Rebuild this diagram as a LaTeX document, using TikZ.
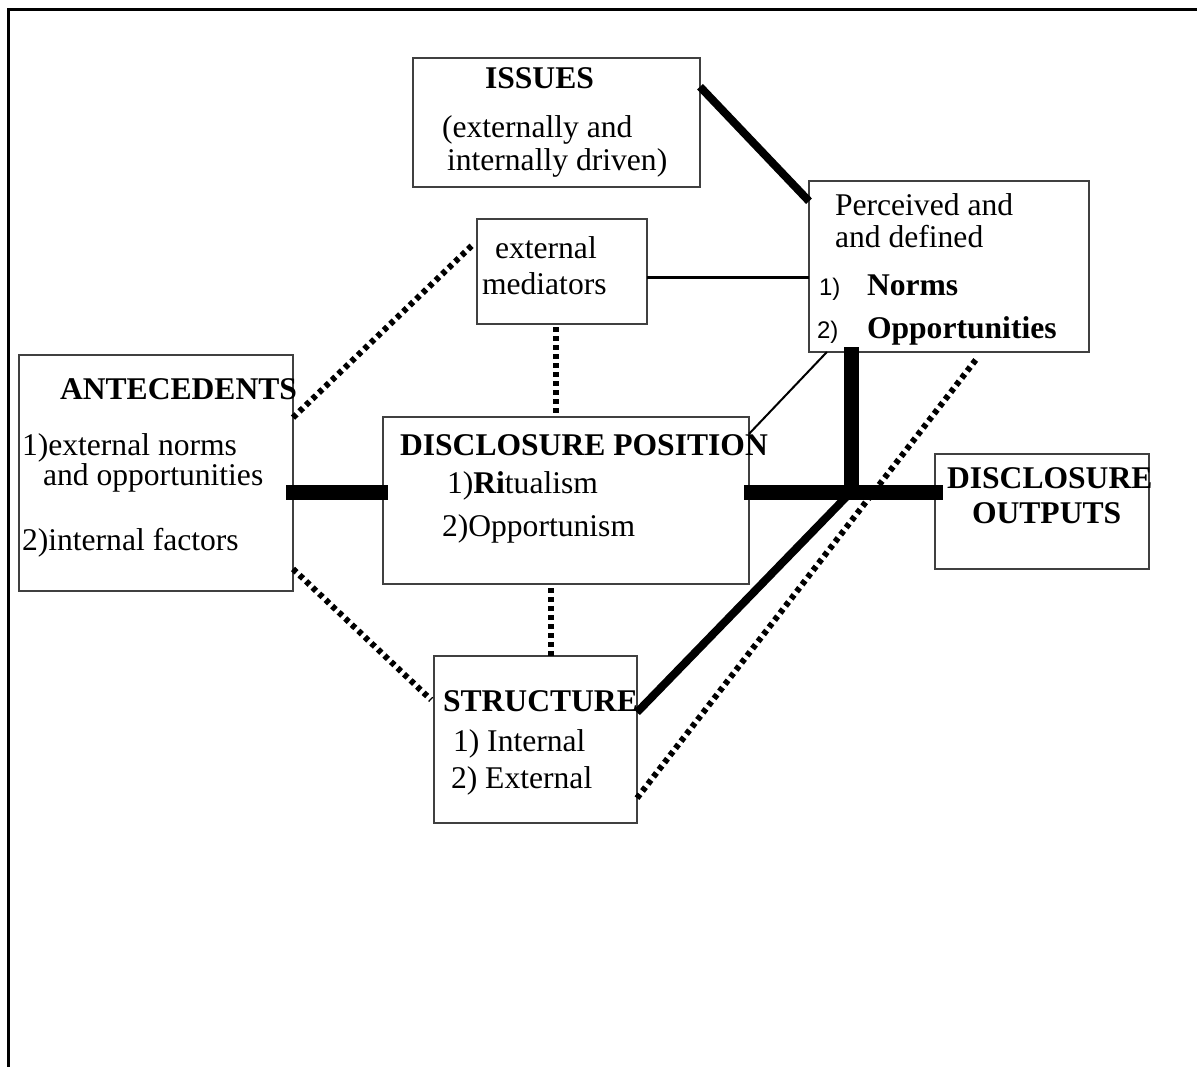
\documentclass[tikz,border=0pt]{standalone}
\usepackage{fontspec}
\setmainfont{Liberation Serif}
\newfontfamily\arialfont{Liberation Sans}

\begin{document}
\begin{tikzpicture}[x=0.5pt,y=-0.5pt,
  every node/.style={inner sep=0pt,outer sep=0pt},
  box/.style={draw=black!75,line width=0.75pt},
  txt/.style={anchor=base west,font=\fontsize{15.8pt}{18pt}\selectfont},
  num/.style={anchor=base west,font=\arialfont\fontsize{12pt}{14pt}\selectfont},
  bar/.style={line width=7.5pt},
  link/.style={line width=4pt},
  fine/.style={line width=1pt},
  dots/.style={line width=3pt,dash pattern=on 2.4pt off 2.1pt}]
\useasboundingbox (0,0) rectangle (1197,1066);
\draw[line width=1.5pt] (8,1075) -- (8,9) -- (1205,9);

\node[box, minimum width=143.5pt, minimum height=64.5pt] (issues) at (556.5,122.5) {};
\node[box, minimum width=85pt, minimum height=52.5pt] (med) at (562,271.5) {};
\node[box, minimum width=140pt, minimum height=85.5pt] (perc) at (949,266.5) {};
\node[box, minimum width=137pt, minimum height=118pt] (ante) at (156,473) {};
\node[box, minimum width=183pt, minimum height=83.5pt] (dp) at (566,500.5) {};
\node[box, minimum width=107pt, minimum height=57.5pt] (outp) at (1042,511.5) {};
\node[box, minimum width=101.5pt, minimum height=83.5pt] (struct) at (535.5,739.5) {};

\node[txt] (issuesT) at (485,88) {\textbf{ISSUES}};
\node[txt] (issuesA) at (442,137) {(externally and};
\node[txt] (issuesB) at (447,170) {internally driven)};
\node[txt] (medA) at (495,258) {external};
\node[txt] (medB) at (482,294) {mediators};
\node[txt] (percA) at (835,215) {Perceived and};
\node[txt] (percB) at (835,247) {and defined};
\node[num] (percN1) at (819,295) {1)};
\node[txt] (percC) at (867,295) {\textbf{Norms}};
\node[num] (percN2) at (817,338) {2)};
\node[txt] (percD) at (867,338) {\textbf{Opportunities}};
\node[txt] (anteT) at (60,399) {\textbf{ANTECEDENTS}};
\node[txt] (anteA) at (22,455) {1)external norms};
\node[txt] (anteB) at (43,485) {and opportunities};
\node[txt] (anteC) at (22,550) {2)internal factors};
\node[txt] (dpT) at (400,455) {\textbf{DISCLOSURE POSITION}};
\node[txt] (dpA) at (447,493) {1)\textbf{Ri}tualism};
\node[txt] (dpB) at (442,536) {2)Opportunism};
\node[txt] (outT) at (947,488) {\textbf{DISCLOSURE}};
\node[txt] (outB) at (972,523) {\textbf{OUTPUTS}};
\node[txt] (stT) at (443,711) {\textbf{STRUCTURE}};
\node[txt] (stA) at (453,751) {1) Internal};
\node[txt] (stB) at (451,788) {2) External};

\coordinate (hub) at (851,492);
\draw[link] (issues.14) -- (perc.155);
\draw[line width=1.5pt] (med.-4) -- (med.-4 -| perc.west);
\draw[dots, shorten >=3pt] (ante.22) -- (med.160);
\draw[dots, shorten <=1.5pt, shorten >=1.5pt] ([xshift=-3pt]med.south) -- ([xshift=-3pt]med.south |- dp.north);
\draw[bar, shorten <=-3.5pt, shorten >=-2.5pt] (ante.-8) -- (ante.-8 -| dp.west);
\draw[dots, shorten >=2pt] (ante.-35) -- (struct.160);
\draw[dots, shorten <=2pt] ([xshift=-7.5pt]dp.south) -- ([xshift=-7.5pt]dp.south |- struct.north);
\draw[fine] (perc.215) -- (dp.20);
\draw[bar, shorten <=-2.5pt] (perc.south -| hub) -- (hub);
\draw[bar, shorten <=-2.5pt, shorten >=-4pt] (dp.east |- hub) -- (outp.west |- hub);
\draw[link] (struct.15) -- (hub);
\draw[dots, shorten >=3.5pt] (struct.-30) -- (perc.-69);
\end{tikzpicture}
\end{document}
